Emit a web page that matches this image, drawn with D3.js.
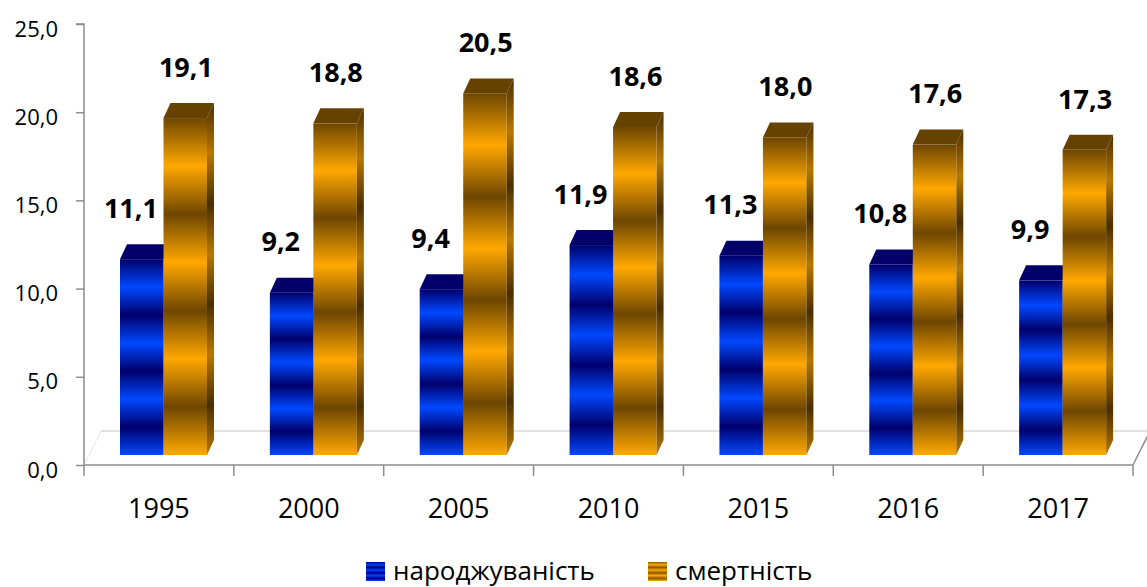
<!DOCTYPE html>
<html>
<head>
<meta charset="utf-8">
<script src="https://cdn.jsdelivr.net/npm/d3@7"></script>
<style>
  html, body { margin: 0; padding: 0; background: #fff; }
  text { font-family: "Open Sans", "Noto Sans", sans-serif; }
</style>
</head>
<body>
<div class="canvas"></div>
<script>
// data
const years = ['1995', '2000', '2005', '2010', '2015', '2016', '2017'];
const births = [11.1, 9.2, 9.4, 11.9, 11.3, 10.8, 9.9];   // народжуваність
const deaths = [19.1, 18.8, 20.5, 18.6, 18.0, 17.6, 17.3]; // смертність
const seriesNames = ['народжуваність', 'смертність'];
const yTicks = [0, 5, 10, 15, 20, 25];

const width = 1147, height = 587;
const svg = d3.select('.canvas')
  .append('svg')
  .attr('width', width)
  .attr('height', height);

// plot area (front plane of the 3d floor)
const plot = { left: 84, right: 1133, top: 24, bottom: 465 };
// 3d offsets
const barShift = { x: 0, y: -10 };   // bar front plane behind the floor front edge
const depth = { x: 7, y: -15 };      // bar depth
const floorDepth = { x: 17, y: -34 };

const x = d3.scaleBand()
  .domain(years)
  .range([plot.left, plot.right]);

const y = d3.scaleLinear()
  .domain([0, 25])
  .range([plot.bottom, plot.top]);

const fmt = d => d3.format('.1f')(d).replace('.', ',');

// gradients
const defs = svg.append('defs');
function stripes(id, bright, dark) {
  const g = defs.append('linearGradient')
    .attr('id', id)
    .attr('x1', 0).attr('y1', 1)
    .attr('x2', 0).attr('y2', 0);
  d3.range(8).forEach(k => {
    g.append('stop')
      .attr('offset', k / 7)
      .attr('stop-color', k % 2 === 0 ? bright : dark);
  });
}
stripes('blueFront', '#0048ff', '#00006c');
stripes('orangeFront', '#ffa800', '#6e4600');
stripes('orangeSide', '#b87800', '#4a2e00');
stripes('blueLegend', '#0040ff', '#00008a');
stripes('orangeLegend', '#ffa800', '#8a5800');

// floor
const floor = svg.append('g');
floor.append('line')
  .attr('x1', plot.left + floorDepth.x).attr('y1', plot.bottom + floorDepth.y)
  .attr('x2', plot.right + floorDepth.x).attr('y2', plot.bottom + floorDepth.y)
  .attr('stroke', '#d9d9d9').attr('stroke-width', 1.5);
floor.append('line')
  .attr('x1', plot.left).attr('y1', plot.bottom)
  .attr('x2', plot.left + floorDepth.x).attr('y2', plot.bottom + floorDepth.y)
  .attr('stroke', '#e6e6e6').attr('stroke-width', 1);
floor.append('line')
  .attr('x1', plot.right).attr('y1', plot.bottom)
  .attr('x2', plot.right + floorDepth.x).attr('y2', plot.bottom + floorDepth.y)
  .attr('stroke', '#8c8c8c').attr('stroke-width', 1.5);

// axes
const yAxis = d3.axisLeft(y)
  .tickValues(yTicks)
  .tickSize(8)
  .tickPadding(18)
  .tickFormat(fmt);
const yAxisGroup = svg.append('g')
  .attr('transform', `translate(${plot.left}, 0)`)
  .call(yAxis);
yAxisGroup.selectAll('path, line').attr('stroke', '#8c8c8c').attr('stroke-width', 1.5);
yAxisGroup.select('.domain').attr('d', `M-8,${plot.top}H0V${plot.bottom}`);
yAxisGroup.selectAll('text')
  .attr('font-size', 22)
  .attr('fill', '#000')
  .attr('dy', '0.55em')
  .style('font-family', '"Open Sans", sans-serif');

const xAxis = d3.axisBottom(x).tickSize(0).tickPadding(34);
const xAxisGroup = svg.append('g')
  .attr('transform', `translate(0, ${plot.bottom})`)
  .call(xAxis);
xAxisGroup.select('.domain').attr('stroke', '#8c8c8c').attr('stroke-width', 1.5)
  .attr('d', `M${plot.left},0H${plot.right}`);
xAxisGroup.selectAll('text')
  .attr('font-size', 27)
  .attr('fill', '#000')
  .style('font-family', '"Open Sans", sans-serif');
// category separators
xAxisGroup.selectAll('.sep')
  .data(years.concat(['end']))
  .enter()
  .append('line')
  .attr('x1', (d, i) => plot.left + i * x.step())
  .attr('x2', (d, i) => plot.left + i * x.step())
  .attr('y1', 0).attr('y2', 11)
  .attr('stroke', '#8c8c8c').attr('stroke-width', 1.5);

// bars
const barW = 43.5, barOff = 36;
const rows = years.map((yr, i) => ({ year: yr, b: births[i], d: deaths[i] }));

function bar3d(g, x0, v, front, side, topFill) {
  const yt = y(v) + barShift.y;
  const yb = y(0) + barShift.y;
  const x1 = x0 + barW;
  g.append('rect')
    .attr('x', x0).attr('y', yt)
    .attr('width', barW).attr('height', yb - yt)
    .attr('fill', `url(#${front})`);
  g.append('path')
    .attr('d', `M${x0},${yt}L${x0 + depth.x},${yt + depth.y}L${x1 + depth.x},${yt + depth.y}L${x1},${yt}Z`)
    .attr('fill', topFill);
  if (side) {
    g.append('path')
      .attr('d', `M${x1},${yt}L${x1 + depth.x},${yt + depth.y}L${x1 + depth.x},${yb + depth.y}L${x1},${yb}Z`)
      .attr('fill', `url(#${side})`);
  }
}

const groups = svg.append('g').selectAll('g')
  .data(rows)
  .enter()
  .append('g');

groups.each(function (d) {
  const g = d3.select(this);
  const x0 = x(d.year) + barOff;
  bar3d(g, x0, d.b, 'blueFront', 'blueFront', '#000068');
  bar3d(g, x0 + barW, d.d, 'orangeFront', 'orangeSide', '#664200');
});

// data labels
const labels = svg.append('g')
  .attr('font-size', 27)
  .attr('font-weight', 'bold')
  .attr('text-anchor', 'middle')
  .attr('fill', '#000');

labels.selectAll('.lb')
  .data(rows)
  .enter()
  .append('text')
  .attr('x', d => x(d.year) + x.bandwidth() / 2 - 28)
  .attr('y', d => y(d.b) - 61)
  .attr('dy', '0.36em')
  .text(d => fmt(d.b));

labels.selectAll('.ld')
  .data(rows)
  .enter()
  .append('text')
  .attr('x', d => x(d.year) + x.bandwidth() / 2 + 27)
  .attr('y', d => y(d.d) - 61)
  .attr('dy', '0.36em')
  .text(d => fmt(d.d));

// legend
const legend = svg.append('g');
const legendItems = [
  { name: seriesNames[0], fill: 'blueLegend', x: 366 },
  { name: seriesNames[1], fill: 'orangeLegend', x: 648 }
];
legendItems.forEach(it => {
  legend.append('rect')
    .attr('x', it.x).attr('y', 562)
    .attr('width', 19).attr('height', 19)
    .attr('fill', `url(#${it.fill})`);
  legend.append('text')
    .attr('x', it.x + 27).attr('y', 580)
    .attr('font-size', 26)
    .attr('fill', '#000')
    .text(it.name);
});
</script>
</body>
</html>
